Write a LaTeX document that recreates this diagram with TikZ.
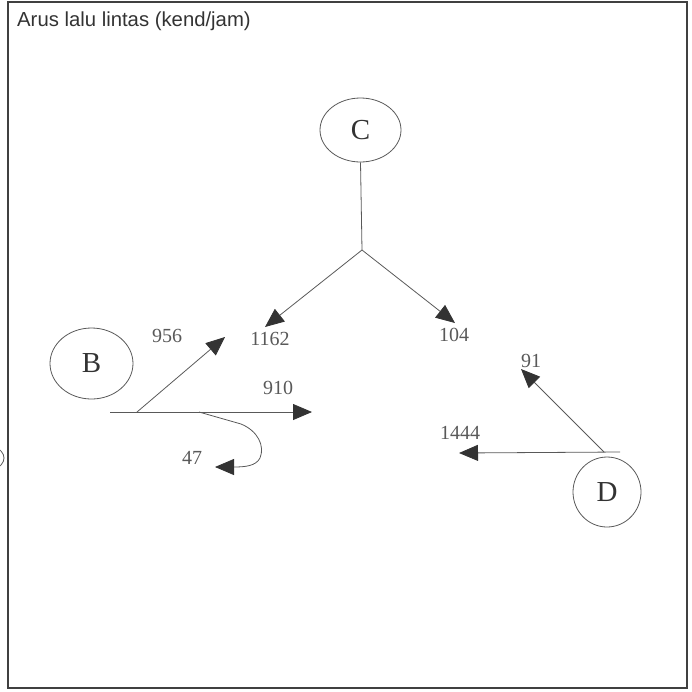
\documentclass[tikz,border=0pt]{standalone}
\usepackage{fontspec}
\setmainfont{Liberation Serif}
\newfontfamily\titlesans{Liberation Sans}
\usetikzlibrary{arrows.meta,shapes.geometric}
\begin{document}
\begin{tikzpicture}[x=1pt,y=-1pt,
  zone/.style={draw=black!65,line width=0.8pt,ellipse,inner sep=0pt,
    font=\fontsize{29}{29}\selectfont,text=black!80},
  flow/.style={draw=black!65,line width=0.8pt},
  flowtip/.style={flow,-{Triangle[length=19pt,width=16pt,color=black!80]}},
  count/.style={font=\fontsize{20}{20}\selectfont,text=black!65,inner sep=0pt},
  frame/.style={draw=black!75,line width=2pt}]

\useasboundingbox (0,0) rectangle (692,691);

% outer frame
\draw[frame] (8,1.5) rectangle (687,688);
\node[anchor=base west,inner sep=0pt,font=\titlesans\fontsize{20.3}{20.3}\selectfont,text=black!80]
  (title) at (17,26) {Arus lalu lintas (kend/jam)};

% edge of a zone lying outside the frame
\begin{scope}
  \clip (0,0) rectangle (7,691);
  \draw[flow] (-30,458) ellipse [x radius=34, y radius=17];
\end{scope}

% zones
\node[zone,minimum width=81pt,minimum height=64pt] (C) at (360.5,130) {C};
\node[zone,minimum width=83pt,minimum height=71pt] (B) at (91.5,363.5) {B};
\node[zone,minimum width=68pt,minimum height=70pt] (D) at (607,492) {D};

% flows leaving C
\coordinate (csplit) at (362,250);
\coordinate (t1162) at (265,327);
\coordinate (t104) at (455,323);
\draw[flow] (C.south) -- (csplit);
\draw[flowtip] (csplit) -- (t1162);
\draw[flowtip] (csplit) -- (t104);
\node[count] (n1162) at (270,339) {1162};
\node[count] (n104) at (454,335) {104};

% flows leaving B
\coordinate (b0) at (110,412);
\coordinate (b1) at (137,412);
\coordinate (b2) at (199,412);
\coordinate (t910) at (312,412);
\coordinate (t956) at (225,337);
\coordinate (t47) at (215,467);
\draw[flowtip] (b0) -- (t910);
\draw[flowtip] (b1) -- (t956);
\draw[flowtip] (b2) -- (241,424) .. controls (258,431) and (265,446) .. (260,458)
  .. controls (256,466) and (245,467) .. (t47);
\node[count] (n956) at (167,336) {956};
\node[count] (n910) at (278,388) {910};
\node[count] (n47) at (192,458) {47};

% flows leaving D
\coordinate (d0) at (620,452);
\coordinate (d1) at (604,452);
\coordinate (t1444) at (459,453);
\coordinate (t91) at (521,369);
\draw[flowtip] (d0) -- (t1444);
\draw[flowtip] (d1) -- (t91);
\node[count] (n1444) at (460,433) {1444};
\node[count] (n91) at (531,361) {91};

\end{tikzpicture}
\end{document}
